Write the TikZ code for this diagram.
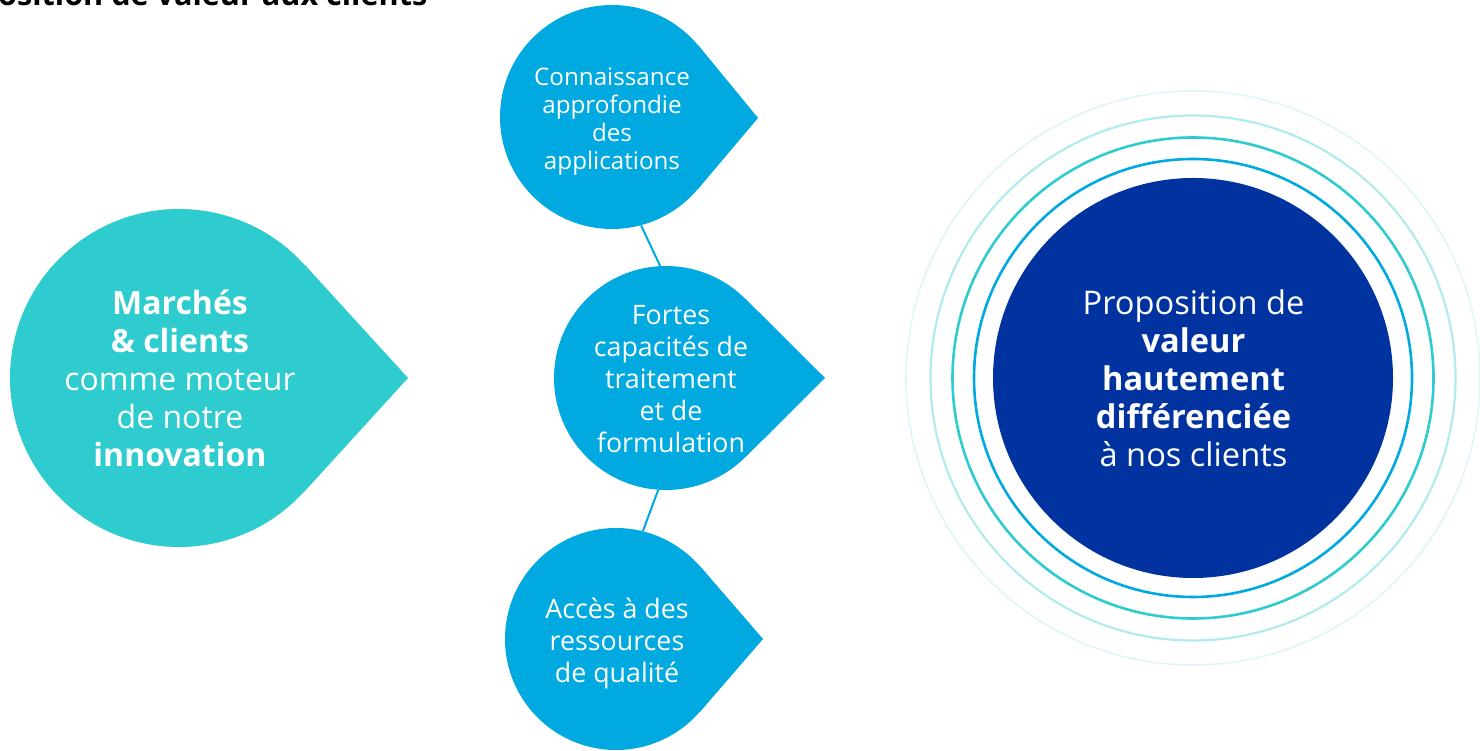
\documentclass[tikz,border=0pt]{standalone}
\usepackage{fontspec}
\setmainfont{Open Sans}
\usetikzlibrary{backgrounds}
\definecolor{mteal}{RGB}{46,203,207}
\definecolor{mblue}{RGB}{0,169,224}
\definecolor{mnavy}{RGB}{0,51,160}
\definecolor{mlight}{RGB}{178,235,238}
\definecolor{mfaint}{RGB}{222,246,247}
\tikzset{
  bubble/.style={circle, inner sep=0pt},
  btext/.style={inner sep=0pt, align=center, text=white},
  link/.style={draw=mblue, line width=2pt},
}
\begin{document}
\begin{tikzpicture}[x=1pt,y=1pt]
\useasboundingbox (0,0) rectangle (1480,751);
\clip (0,0) rectangle (1480,751);

% title (cut off at the top of the picture)
\node[anchor=base west, inner sep=0pt, font=\bfseries\fontsize{30.6}{36}\selectfont] (title) at (-2,745) {osition de valeur aux clients};

% left bubble
\node[bubble, fill=mteal, minimum size=338pt] (mc) at (179,373) {};
\node[btext, font=\fontsize{32}{38}\selectfont] (mctext) at (180,373)
  {\textbf{Marchés}\\\textbf{\& clients}\\comme moteur\\de notre\\\textbf{innovation}};
\coordinate (mctip) at (408,373);

% top bubble
\node[bubble, fill=mblue, minimum size=224pt] (ca) at (612,634) {};
\node[btext, font=\fontsize{24.2}{28}\selectfont] (catext) at (612,629)
  {Connaissance\\approfondie\\des\\applications};
\coordinate (catip) at (758,633);

% middle bubble
\node[bubble, fill=mblue, minimum size=224pt] (ft) at (666,373) {};
\node[btext, font=\fontsize{26.8}{32}\selectfont] (fttext) at (671,372)
  {Fortes\\capacités de\\traitement\\et de\\formulation};
\coordinate (fttip) at (825,373);

% bottom bubble
\node[bubble, fill=mblue, minimum size=222pt] (ar) at (616,112) {};
\node[btext, font=\fontsize{26.8}{32}\selectfont] (artext) at (617,108)
  {Accès à des\\ressources\\de qualité};
\coordinate (artip) at (763,112);

% right circle
\node[bubble, fill=mnavy, minimum size=400pt] (vp) at (1193,373) {};
\node[btext, font=\fontsize{32.6}{38}\selectfont] (vptext) at (1193.5,373)
  {Proposition de\\\textbf{valeur}\\\textbf{hautement}\\\textbf{différenciée}\\à nos clients};

\begin{scope}[on background layer]
  \fill[mteal] (mc.center) -- (mc.42.4) -- (mctip) -- (mc.-42.4) -- cycle;
  \fill[mblue] (ca.center) -- (ca.40) -- (catip) -- (ca.-40) -- cycle;
  \fill[mblue] (ft.center) -- (ft.45) -- (fttip) -- (ft.-45) -- cycle;
  \fill[mblue] (ar.center) -- (ar.41) -- (artip) -- (ar.-41) -- cycle;
  % rings
  \draw[mfaint, line width=1.6pt] (vp.center) circle (287);
  \draw[mlight, line width=2.2pt] (vp.center) circle (262.5);
  \draw[mteal, line width=2.6pt] (vp.center) circle (240.5);
  \draw[mblue, line width=2.6pt] (vp.center) circle (219);
\end{scope}

% connectors
\draw[link] (ca.-75) -- (ft.93);
\draw[link] (ft.-94) -- (ar.76);
\end{tikzpicture}
\end{document}
